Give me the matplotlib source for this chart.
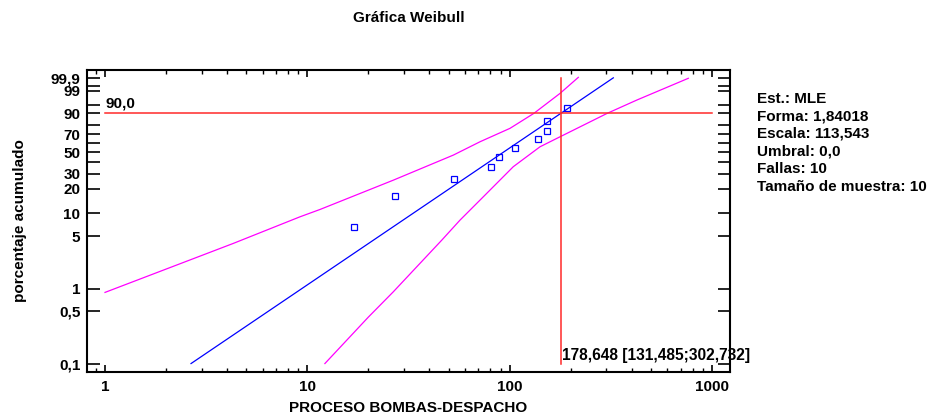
import numpy as np
import matplotlib
matplotlib.use('Agg')
import matplotlib.pyplot as plt
from matplotlib.ticker import FixedLocator, FixedFormatter, LogLocator, NullFormatter

plt.rcParams['font.family'] = ['Liberation Sans', 'DejaVu Sans']
plt.rcParams['font.weight'] = 'bold'
plt.rcParams['font.size'] = 11

# data
datos_x = [16.9, 27.0, 52.8, 81.0, 88.1, 105.7, 137.8, 152.1, 153.2, 192.3]
datos_p = [6.7, 16.3, 26.0, 35.6, 45.2, 54.8, 64.4, 74.0, 83.7, 93.3]

forma = 1.84018
escala = 113.543
p90 = 90.0
x90 = 178.648
x90_inf = 131.485
x90_sup = 302.732

# confidence band, upper / left curve
banda1_x = [1.0, 4.30, 9.19, 11.54, 26.6, 52.6, 71.3, 100.2, 131.5, 177.0, 218.0]
banda1_p = [0.9, 4.03, 8.95, 11.1, 25.3, 46.9, 61.6, 76.5, 90.0, 98.6, 99.91]
# confidence band, lower / right curve
banda2_x = [12.2, 20.0, 26.6, 46.1, 56.7, 74.0, 104.0, 141.0, 177.0, 302.7, 424.0, 762.0]
banda2_p = [0.1, 0.42, 0.92, 4.45, 8.1, 16.0, 35.7, 55.9, 67.2, 90.0, 96.9, 99.89]

y_ticks = [0.1, 0.5, 1, 5, 10, 20, 30, 40, 50, 60, 70, 80, 90, 95, 99, 99.5, 99.9]
y_labels = ['0,1', '0,5', '1', '5', '10', '20', '30', '', '50', '', '70', '', '90', '', '99', '', '99,9']
x_ticks = [1, 10, 100, 1000]
x_labels = ['1', '10', '100', '1000']

stats = ['Est.: MLE', 'Forma: 1,84018', 'Escala: 113,543', 'Umbral: 0,0',
         'Fallas: 10', 'Tamaño de muestra: 10']


def fwd(p):
    q = np.clip(np.asarray(p, dtype=float) / 100.0, 1e-9, 1 - 1e-12)
    return np.log(-np.log(1 - q))


def inv(w):
    return 100.0 * (1 - np.exp(-np.exp(w)))


fig = plt.figure(figsize=(9.33, 4.19), dpi=100)
ax = fig.add_axes([86.7 / 933, 1 - 372 / 419, (730 - 86.7) / 933, (372 - 70) / 419])
ax.set_xscale('log')
ax.set_yscale('function', functions=(fwd, inv))
ax.set_xlim(0.812, 1224)
ax.set_ylim(0.077, 99.985)

# fitted weibull line
p_lin = np.array([0.1, 99.9])
x_lin = escala * (-np.log(1 - p_lin / 100)) ** (1 / forma)
ax.plot(x_lin, p_lin, color='#0000ff', lw=0.9)

ax.plot(banda1_x, banda1_p, color='#ff00ff', lw=0.9)
ax.plot(banda2_x, banda2_p, color='#ff00ff', lw=0.9)

ax.plot(datos_x, datos_p, ls='none', marker='s', ms=4, mfc='none', mec='#0000ff', mew=0.9)

# 90% crosshair
ax.plot([1, 1000], [p90, p90], color='#ff2a2a', lw=1.1)
ax.plot([x90, x90], [0.1, 99.9], color='#ff2a2a', lw=1.1)
ax.annotate('90,0', (1, p90), xytext=(0, 2), textcoords='offset points',
            ha='left', va='bottom', fontsize=11, fontweight='bold')
ax.annotate('178,648 [131,485;302,732]', (x90, 0.1), xytext=(0.5, 0.5),
            textcoords='offset points', ha='left', va='bottom', fontsize=11.2, fontweight='bold')

ax.yaxis.set_major_locator(FixedLocator(y_ticks))
ax.yaxis.set_major_formatter(FixedFormatter(y_labels))
ax.yaxis.set_minor_locator(FixedLocator([]))
ax.xaxis.set_major_locator(FixedLocator(x_ticks))
ax.xaxis.set_major_formatter(FixedFormatter(x_labels))
ax.xaxis.set_minor_locator(LogLocator(base=10, subs=np.arange(2, 10)))
ax.xaxis.set_minor_formatter(NullFormatter())

ax.tick_params(axis='y', which='major', direction='in', length=9, width=1.2,
               left=True, right=True, pad=4.5, labelsize=11)
ax.tick_params(axis='x', which='major', direction='in', length=5, width=1.2,
               top=True, bottom=True, pad=6, labelsize=11)
ax.tick_params(axis='x', which='minor', direction='in', length=3, width=1,
               top=True, bottom=True)
for s in ax.spines.values():
    s.set_linewidth(1.5)

fig.text(409 / 933, 1 - 18 / 419, 'Gráfica Weibull', ha='center', va='center',
         fontsize=11, fontweight='bold')
fig.text(408 / 933, 1 - 408 / 419, 'PROCESO BOMBAS-DESPACHO', ha='center', va='center',
         fontsize=11, fontweight='bold')
fig.text(20 / 933, 1 - 221 / 419, 'porcentaje acumulado', ha='center', va='center',
         rotation=90, fontsize=11, fontweight='bold')

for i, t in enumerate(stats):
    fig.text(757 / 933, 1 - (99 + 17.5 * i) / 419, t, ha='left', va='center',
             fontsize=11, fontweight='bold')

fig.savefig('out.png', dpi=100)
